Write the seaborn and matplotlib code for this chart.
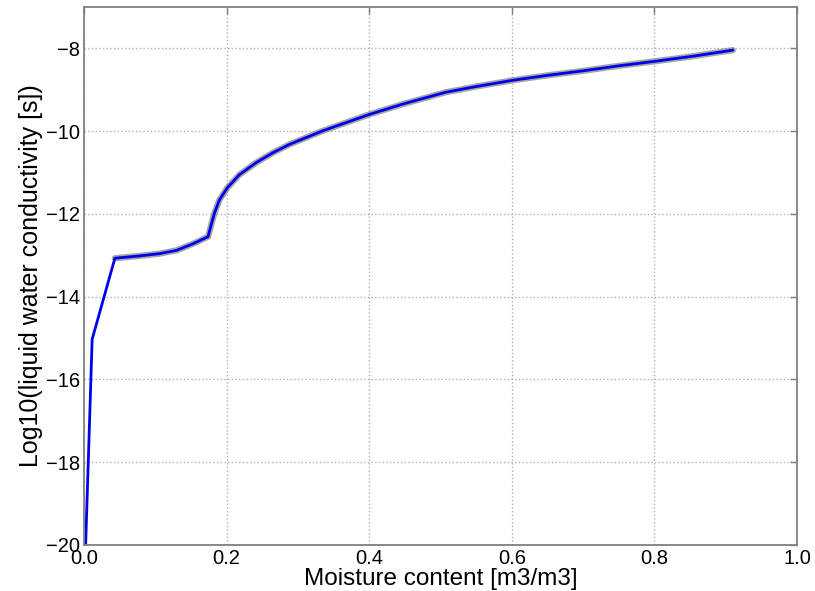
import matplotlib
matplotlib.use("Agg")
import matplotlib.pyplot as plt
import seaborn as sns
import pandas as pd

# values
moisture = [0.0, 0.0115, 0.0434, 0.075, 0.106, 0.130, 0.153, 0.174, 0.179, 0.183,
            0.190, 0.201, 0.218, 0.2415, 0.265, 0.288, 0.335, 0.401, 0.45,
            0.507, 0.55, 0.601, 0.65, 0.70, 0.75, 0.801, 0.857, 0.910]
log_k = [-21.3, -15.03, -13.07, -13.02, -12.96, -12.88, -12.72, -12.55, -12.23, -11.98,
         -11.66, -11.37, -11.05, -10.76, -10.52, -10.32, -9.99, -9.59, -9.33,
         -9.06, -8.92, -8.77, -8.65, -8.54, -8.42, -8.31, -8.18, -8.04]

df = pd.DataFrame({"moisture": moisture, "log_k": log_k})
df_fit = df[df["moisture"] >= 0.04]

sns.set_style("white")
plt.rcParams["font.family"] = ["Liberation Sans", "DejaVu Sans"]
plt.rcParams["text.color"] = "black"
plt.rcParams["axes.labelcolor"] = "black"

fig = plt.figure(figsize=(8.15, 5.91), dpi=100)
ax = fig.add_axes([0.103, 0.078, 0.875, 0.910])

sns.lineplot(data=df_fit, x="moisture", y="log_k", ax=ax, color="#808080",
             linewidth=4.5, alpha=0.7, sort=False)
sns.lineplot(data=df, x="moisture", y="log_k", ax=ax, color="#0000ee",
             linewidth=2, sort=False)

ax.set_xlim(0, 1.0)
ax.set_ylim(-20, -7)
ax.set_xticks([0.0, 0.2, 0.4, 0.6, 0.8, 1.0])
ax.set_yticks([-20, -18, -16, -14, -12, -10, -8])
ax.set_yticklabels(["\u221220", "\u221218", "\u221216", "\u221214", "\u221212", "\u221210", "\u22128"])
ax.grid(True, linestyle=":", color="#b0b0b0", linewidth=1)
ax.tick_params(direction="in", length=5, width=1, color="#808080",
               labelcolor="black", labelsize=14.5, top=True, right=True, pad=3)
for s in ax.spines.values():
    s.set_color("#808080")
    s.set_linewidth(1.3)

ax.set_xlabel("Moisture content [m3/m3]", fontsize=17.5, labelpad=0)
ax.set_ylabel("Log10(liquid water conductivity [s])", fontsize=18, labelpad=2)

fig.savefig("out.png", dpi=100)
plt.close(fig)
